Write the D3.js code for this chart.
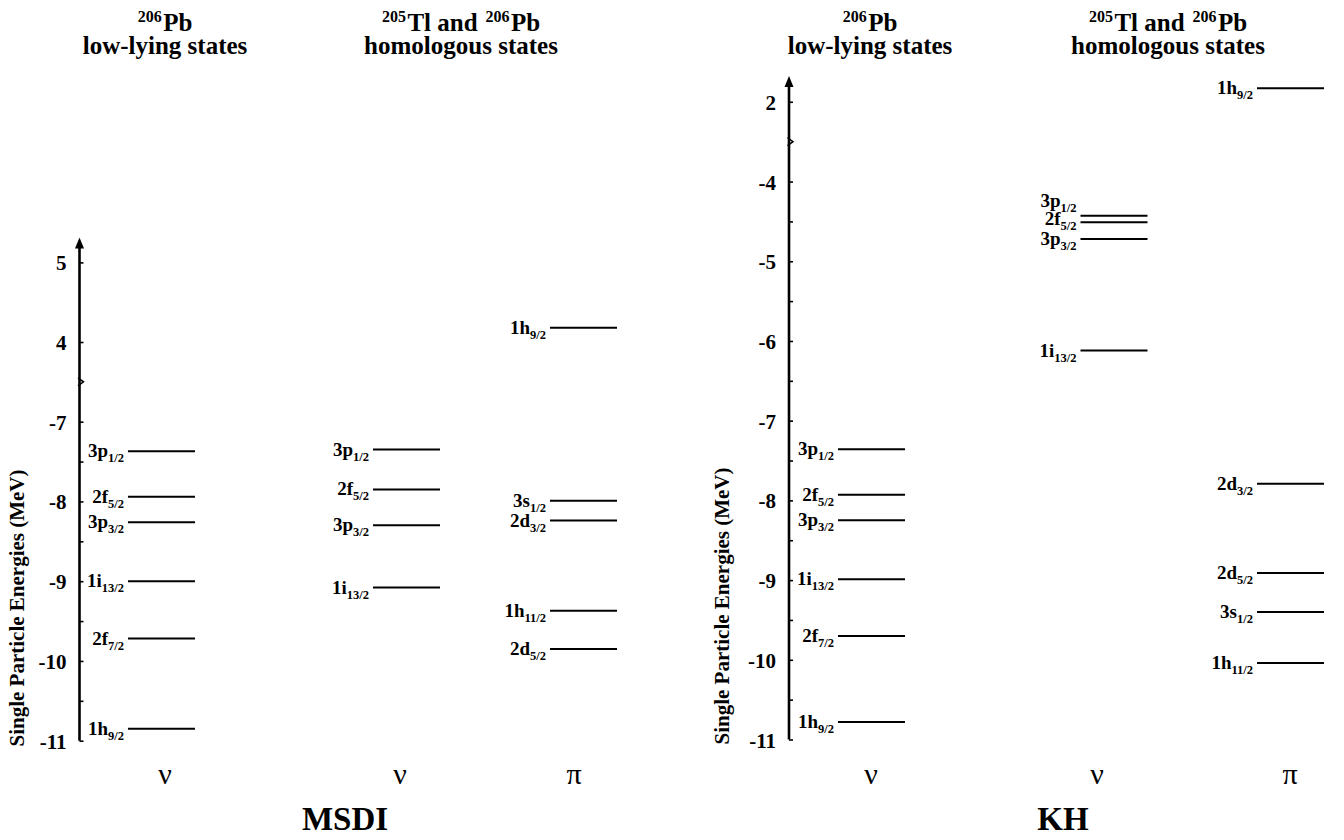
<!DOCTYPE html>
<html>
<head>
<meta charset="utf-8">
<script src="https://cdn.jsdelivr.net/npm/d3@7"></script>
<style>
  html, body { margin: 0; padding: 0; background: #fff; }
  svg { display: block; }
  svg text { font-family: "Liberation Serif", "DejaVu Serif", "Times New Roman", Times, serif; fill: #000; }
</style>
</head>
<body>
<svg id="chart" width="1344" height="840"></svg>
<script>
// ---------------- DATA ----------------
// level entries: [orbital, j-subscript, energy (MeV)]
const msdiNu206 = [["3p","1/2",-7.37],["2f","5/2",-7.94],["3p","3/2",-8.26],["1i","13/2",-9.00],["2f","7/2",-9.72],["1h","9/2",-10.85]];
const msdiNuHom = [["3p","1/2",-7.35],["2f","5/2",-7.85],["3p","3/2",-8.30],["1i","13/2",-9.08]];
const msdiPiHom = [["1h","9/2",4.18],["3s","1/2",-7.99],["2d","3/2",-8.24],["1h","11/2",-9.37],["2d","5/2",-9.85]];

const khNu206 = [["3p","1/2",-7.36],["2f","5/2",-7.93],["3p","3/2",-8.25],["1i","13/2",-8.99],["2f","7/2",-9.70],["1h","9/2",-10.78]];
const khNuHom = [["3p","1/2",-4.43],["2f","5/2",-4.51],["3p","3/2",-4.72],["1i","13/2",-6.12]];
const khPiHom = [["1h","9/2",2.17],["2d","3/2",-7.79],["2d","5/2",-8.91],["3s","1/2",-9.40],["1h","11/2",-10.04]];

const msdiMajorTicks = [5, 4, -7, -8, -9, -10, -11];
const msdiMinorTicks = [-7.5, -8.5, -9.5, -10.5];
const khMajorTicks = [2, -4, -5, -6, -7, -8, -9, -10, -11];
const khMinorTicks = [-4.5, -5.5, -6.5, -7.5, -8.5, -9.5, -10.5];

const columnKeys = ["nu206", "nuHom", "piHom"];
const columnSymbols = ["ν", "ν", "π"];
const headerLines = [["206", "Pb", "", ""], ["205", "Tl and ", "206", "Pb"]];
const headerSub = ["low-lying states", "homologous states"];
const yTitle = "Single Particle Energies (MeV)";
const panelNames = ["MSDI", "KH"];

// ---------------- LAYOUT ----------------
const FONT = "'Liberation Serif', 'DejaVu Serif', serif";
const svg = d3.select("#chart");

const panels = [
  {
    name: panelNames[0],
    levels: { nu206: msdiNu206, nuHom: msdiNuHom, piHom: msdiPiHom },
    major: msdiMajorTicks, minor: msdiMinorTicks,
    axisX: 79.5,
    y: d3.scaleLinear().domain([-11, -6.5, 3.5, 5.3]).range([740.7, 381.8, 381.8, 238.5]),
    breakVal: -6.5,
    x: d3.scaleOrdinal().domain(columnKeys).range([161.5, 406.5, 583.5]),
    symX: d3.scaleOrdinal().domain(columnKeys).range([165, 400, 574]),
    headerX: [165, 461],
    titleX: 24, titleY: 608,
    nameX: 345,
    nudge: {}
  },
  {
    name: panelNames[1],
    levels: { nu206: khNu206, nuHom: khNuHom, piHom: khPiHom },
    major: khMajorTicks, minor: khMinorTicks,
    axisX: 789,
    y: d3.scaleLinear().domain([-11, -3.5, 1.5, 2.31]).range([739.5, 141.7, 141.7, 77]),
    breakVal: -3.5,
    x: d3.scaleOrdinal().domain(columnKeys).range([871.5, 1114, 1290.5]),
    symX: d3.scaleOrdinal().domain(columnKeys).range([871, 1097, 1290]),
    headerX: [870, 1168],
    titleX: 729, titleY: 606,
    nameX: 1063,
    nudge: { "nuHom|3p|1/2": -15, "nuHom|2f|5/2": -3, "nuHom|3p|3/2": 0 }
  }
];

const halfW = 33.5;

panels.forEach(p => {
  const g = svg.append("g").attr("font-family", FONT);
  const y = p.y;
  const ax = p.axisX;
  const yTop = y.range()[3];
  const yBot = y.range()[0];

  // axis line
  g.append("line")
    .attr("x1", ax).attr("x2", ax)
    .attr("y1", yBot).attr("y2", yTop + 6)
    .attr("stroke", "#000").attr("stroke-width", 2.6);
  // arrow head
  g.append("path")
    .attr("d", `M${ax},${yTop - 1} L${ax - 4.5},${yTop + 10} L${ax + 4.5},${yTop + 10} Z`)
    .attr("fill", "#000");

  // ticks (right side of axis)
  const tickAxis = d3.axisRight(y)
    .tickValues(p.major.concat(p.minor))
    .tickSize(4).tickSizeOuter(0).tickFormat("");
  const tg = g.append("g").attr("transform", `translate(${ax},0)`).call(tickAxis);
  tg.select(".domain").remove();
  tg.selectAll(".tick line").attr("stroke", "#000").attr("stroke-width", 1.6);

  // tick labels (left side)
  const labelAxis = d3.axisLeft(y)
    .tickValues(p.major).tickSize(0).tickSizeOuter(0).tickPadding(13)
    .tickFormat(d => String(d));
  const lg = g.append("g").attr("transform", `translate(${ax},0)`).call(labelAxis);
  lg.attr("font-family", FONT).attr("font-size", 21);
  lg.select(".domain").remove();
  lg.selectAll(".tick text")
    .attr("font-weight", "bold")
    .attr("dy", "0.36em");

  // axis break mark
  const yb = y(p.breakVal);
  g.append("path")
    .attr("d", `M${ax - 1.5},${yb - 4} L${ax + 4},${yb} L${ax - 1.5},${yb + 4}`)
    .attr("fill", "none").attr("stroke", "#000").attr("stroke-width", 1.5);

  // y axis title
  g.append("text")
    .attr("transform", `translate(${p.titleX},${p.titleY}) rotate(-90)`)
    .attr("text-anchor", "middle")
    .attr("font-weight", "bold")
    .attr("font-size", 21)
    .text(yTitle);

  // levels
  columnKeys.forEach((key, ci) => {
    const cx = p.x(key);
    const data = p.levels[key];
    const lv = g.append("g");
    lv.selectAll("line.level").data(data).join("line")
      .attr("class", "level")
      .attr("x1", cx - halfW).attr("x2", cx + halfW)
      .attr("y1", d => y(d[2])).attr("y2", d => y(d[2]))
      .attr("stroke", "#000").attr("stroke-width", 2);
    const t = lv.selectAll("text.lab").data(data).join("text")
      .attr("class", "lab")
      .attr("x", cx - halfW - 4)
      .attr("y", d => y(d[2]) + 6 + (p.nudge[key + "|" + d[0] + "|" + d[1]] || 0))
      .attr("text-anchor", "end")
      .attr("font-weight", "bold")
      .attr("font-size", 19);
    t.append("tspan").text(d => d[0]);
    t.append("tspan").attr("font-size", 12.5).attr("dy", 5).text(d => d[1]);

    // column symbol
    g.append("text")
      .attr("x", p.symX(key)).attr("y", 784)
      .attr("text-anchor", "middle")
      .attr("font-size", 30)
      .text(columnSymbols[ci]);
  });

  // headers
  headerLines.forEach((hl, hi) => {
    const hx = p.headerX[hi];
    const t = g.append("text")
      .attr("x", hx).attr("y", 31)
      .attr("text-anchor", "middle")
      .attr("font-weight", "bold")
      .attr("font-size", 25);
    t.append("tspan").attr("font-size", 16).attr("dy", -9).text(hl[0]);
    t.append("tspan").attr("dy", 9).attr("dx", 1.5).text(hl[1]);
    if (hl[2]) {
      t.append("tspan").attr("font-size", 16).attr("dy", -9).attr("dx", 1.5).text(hl[2]);
      t.append("tspan").attr("dy", 9).attr("dx", 1.5).text(hl[3]);
    }
    g.append("text")
      .attr("x", hx).attr("y", 54)
      .attr("text-anchor", "middle")
      .attr("font-weight", "bold")
      .attr("font-size", 25)
      .text(headerSub[hi]);
  });

  // panel name
  g.append("text")
    .attr("x", p.nameX).attr("y", 830)
    .attr("text-anchor", "middle")
    .attr("font-weight", "bold")
    .attr("font-size", 33)
    .text(p.name);
});
</script>
</body>
</html>
